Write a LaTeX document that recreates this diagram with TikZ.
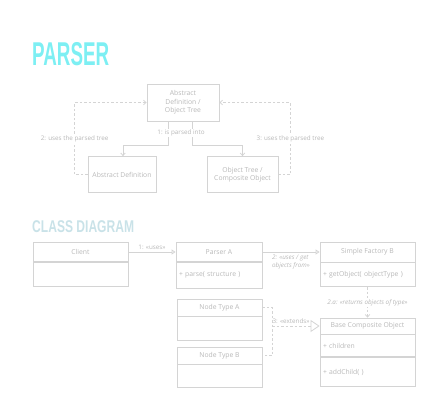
\documentclass[tikz,border=0pt]{standalone}
\usepackage{fontspec}
\setmainfont{Open Sans}
\newfontfamily\titlefont{Liberation Sans}
\usetikzlibrary{arrows.meta,positioning}
\definecolor{linec}{HTML}{D4D4D4}
\definecolor{textc}{HTML}{B8B8B8}
\definecolor{titlec}{HTML}{7DEFF3}
\definecolor{subtitlec}{HTML}{C9E2E8}

\begin{document}
\begin{tikzpicture}[x=1pt, y=-1pt,
    box/.style={draw=linec, line width=0.8pt, text=textc, inner sep=0pt, align=center,
      font=\fontsize{6.8}{8.5}\selectfont},
    classrow/.style={box, anchor=north, align=left, inner xsep=3pt},
    lbl/.style={text=textc, inner sep=1pt, font=\fontsize{6.3}{7.5}\selectfont},
    conn/.style={draw=linec, line width=0.8pt},
    dconn/.style={conn, dash pattern=on 2.5pt off 2pt},
    barb/.style={-{Straight Barb[length=2.5pt,width=4.5pt]}},
    opentip/.style={-{Triangle[open,length=4pt,width=5pt]}},
    extendstip/.style={-{Triangle[open,length=9pt,width=12pt]}}]
  \useasboundingbox (0,0) rectangle (446,417);

  % parser
  \node[anchor=base west, inner sep=0pt, text=titlec] (ptitle) at (32,66)
    {\titlefont\bfseries\fontsize{33}{33}\selectfont\scalebox{0.57}[1]{PARSER}};
  \node[box, minimum width=72, minimum height=37] (tree) at (183,102.5)
    {Abstract\\Definition /\\Object Tree};
  \node[box, minimum width=68, minimum height=36] (absdef) at (122,174.5)
    {Abstract Definition};
  \node[box, minimum width=71, minimum height=36] (objtree) at (242.5,174.5)
    {Object Tree /\\Composite Object};

  \draw[conn, barb] ([xshift=-15]tree.south) -- ++(0,24) -| ([xshift=1]absdef.north);
  \draw[conn, barb] ([xshift=9]tree.south) -- ++(0,24) -| (objtree.north);
  \node[lbl, fill=white] (parsedinto) at (181,133) {1: is parsed into};
  \draw[dconn, barb] (absdef.west) -- ++(-13,0) |- (tree.west)
    node[lbl, pos=0.25, fill=white] {2: uses the parsed tree};
  \draw[dconn, barb] (objtree.east) -- ++(12,0) |- (tree.east)
    node[lbl, pos=0.25, fill=white] {3: uses the parsed tree};

  % class diagram
  \node[anchor=base west, inner sep=0pt, text=subtitlec] (ctitle) at (32,232)
    {\titlefont\bfseries\fontsize{17}{17}\selectfont\scalebox{0.71}[1]{CLASS DIAGRAM}};

  \node[box, minimum width=95, minimum height=19] (client) at (80.5,252) {Client};
  \node[classrow, minimum width=95, minimum height=24, text width=89, below=0pt of client] (clientbody) {};

  \node[box, minimum width=86, minimum height=19] (parser) at (219,252) {Parser A};
  \node[classrow, minimum width=86, minimum height=26, text width=80, below=0pt of parser] (parserrow)
    {+ parse( structure )};

  \node[box, minimum width=95, minimum height=20] (factory) at (367.5,252) {Simple Factory B};
  \node[classrow, minimum width=95, minimum height=24, text width=89, below=0pt of factory] (factoryrow)
    {+ getObject( objectType )};

  \node[box, minimum width=85, minimum height=17] (nodea) at (219.5,307.5) {Node Type A};
  \node[classrow, minimum width=85, minimum height=24, text width=79, below=0pt of nodea] (nodeabody) {};

  \node[box, minimum width=85, minimum height=17] (nodeb) at (219.5,355.5) {Node Type B};
  \node[classrow, minimum width=85, minimum height=23, text width=79, below=0pt of nodeb] (nodebbody) {};

  \node[box, minimum width=95, minimum height=16] (base) at (367.5,326) {Base Composite Object};
  \node[classrow, minimum width=95, minimum height=22, text width=89, below=0pt of base] (baserow)
    {+ children};
  \node[classrow, minimum width=95, minimum height=29, text width=89, below=0pt of baserow] (baseops)
    {+ addChild( )};

  \draw[conn, opentip] (client.east) -- (parser.west)
    node[lbl, midway, above=1pt] {1: «uses»};
  \draw[conn, opentip] (parser.east) -- (factory.west)
    node[lbl, midway, below=2pt, align=left, font=\fontsize{6.3}{7.5}\selectfont\itshape]
    {2: «uses / get\\objects from»};
  \draw[dconn, barb] (factoryrow.south) -- (base.north)
    node[lbl, midway, fill=white, font=\fontsize{6.3}{7.5}\selectfont\itshape]
    {2.a: «returns objects of type»};

  \draw[dconn] (nodea.east) -- ++(10,0) |- (nodeb.east);
  \coordinate (ext) at (272,326);
  \draw[dconn, extendstip] (ext) -- (base.west)
    node[lbl, pos=0.4, above=1pt] {3: «extends»};
\end{tikzpicture}
\end{document}
